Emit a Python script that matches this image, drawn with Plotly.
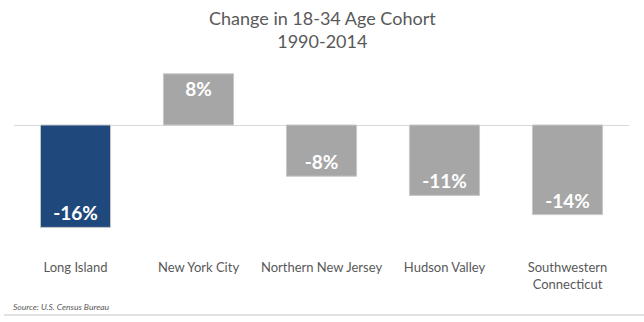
import plotly.graph_objects as go

categories = ["Long Island", "New York City", "Northern New Jersey", "Hudson Valley", "Southwestern<br>Connecticut"]
values = [-16, 8, -8, -11, -14]
labels = ["-16%", "8%", "-8%", "-11%", "-14%"]
colors = ["#1F497D", "#A6A6A6", "#A6A6A6", "#A6A6A6", "#A6A6A6"]
title_lines = ["Change in 18-34 Age Cohort", "1990-2014"]
source = "Source: U.S. Census Bureau"

W, H = 644, 322
L, R, T, B = 14, 15, 60, 72
plot_h = H - T - B
plot_w = W - L - R
zero_y = 125
scale = 6.4
y_top = (zero_y - T) / scale
y_bot = -(H - B - zero_y) / scale

FONT = "Lato"

fig = go.Figure()
fig.add_trace(go.Bar(
    x=categories, y=values,
    marker=dict(color=colors, line=dict(color="#C8C8C8", width=1)),
    text=labels, textposition="inside", insidetextanchor="end",
    textfont=dict(family=FONT, size=19, color="white", weight="bold"),
    constraintext="none", cliponaxis=False,
    width=0.57,
))

def py(px):
    return (H - B - px) / plot_h

def pxx(px):
    return (px - L) / plot_w

fig.update_layout(
    width=W, height=H,
    margin=dict(l=L, r=R, t=T, b=B),
    paper_bgcolor="white", plot_bgcolor="white",
    showlegend=False,
    xaxis=dict(showgrid=False, showline=False, zeroline=False, ticks="",
               ticklabelstandoff=8,
               tickfont=dict(family=FONT, size=13, color="#595959"), fixedrange=True),
    yaxis=dict(range=[y_bot, y_top], showgrid=False, showticklabels=False, ticks="",
               zeroline=True, zerolinecolor="#D9D9D9", zerolinewidth=1, showline=False),
    annotations=[
        dict(text="<br>".join(title_lines), xref="paper", yref="paper",
             x=pxx(322), y=py(5), xanchor="center", yanchor="top", showarrow=False,
             font=dict(family=FONT, size=18, color="#595959")),
        dict(text="<i>" + source + "</i>", xref="paper", yref="paper",
             x=pxx(11), y=py(307), xanchor="left", yanchor="middle", showarrow=False,
             font=dict(family=FONT, size=8.5, color="#595959")),
    ],
    shapes=[dict(type="line", xref="paper", yref="paper", x0=pxx(4), x1=pxx(644),
                 y0=py(315), y1=py(315), line=dict(color="#D9D9D9", width=1.5))],
)

fig.write_html("out.html")
